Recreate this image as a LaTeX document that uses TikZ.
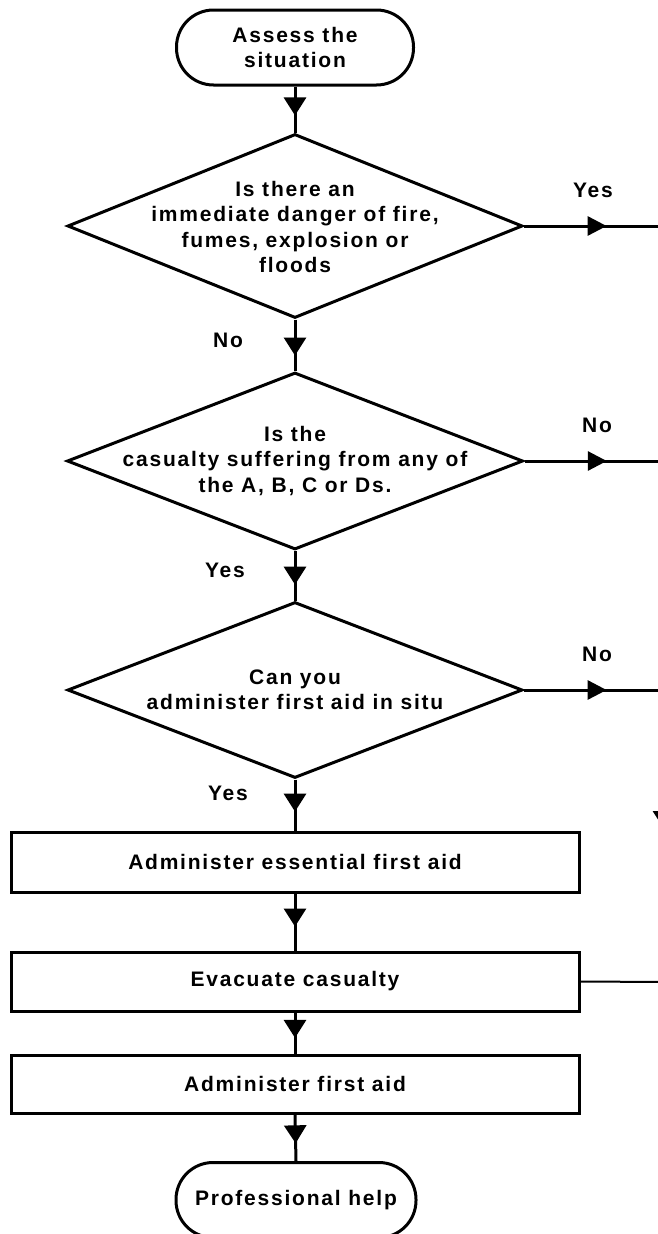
\documentclass[tikz,border=0pt]{standalone}
\usepackage{fontspec}
\setmainfont{Liberation Sans}[LetterSpace=8.5]
\usetikzlibrary{shapes.geometric,arrows.meta,decorations.markings}
\begin{document}
\begin{tikzpicture}[x=1pt,y=-1pt,
  every node/.style={font=\bfseries\fontsize{21}{25.5}\selectfont},
  term/.style={draw, line width=3pt, rectangle, rounded corners=37pt, minimum width=237pt, minimum height=75pt, inner sep=0pt, align=center},
  dec/.style={draw, line width=3pt, diamond, inner sep=0pt},
  proc/.style={draw, line width=3pt, rectangle, minimum width=568pt, inner sep=0pt},
  txt/.style={align=center, inner sep=0pt},
  lab/.style={inner sep=0pt},
  flow/.style={line width=3pt, postaction={decorate}, decoration={markings, mark=at position #1 with {\arrow{Triangle[width=22pt,length=18pt]}}}},
  flow/.default=0.63,
  flowh/.style={line width=3pt, postaction={decorate}, decoration={markings, mark=at position #1 with {\arrow{Triangle[width=19pt,length=19pt]}}}},
  flowh/.default=0.59,
]
\useasboundingbox (0,0) rectangle (658,1234);
\clip (0,0) rectangle (658,1234);

\node[term] (t1) at (295,47.5) {\fontsize{21}{22.5}\selectfont Assess the\\situation};
\node[dec, minimum width=455pt, minimum height=184pt] (d1) at (295,226) {};
\node[txt] (d1t) at (295,227) {Is there an\\immediate danger of fire,\\fumes, explosion or\\floods};
\node[dec, minimum width=456pt, minimum height=177pt] (d2) at (295,461) {};
\node[txt] (d2t) at (295,461) {Is the\\casualty suffering from any of\\the A, B, C or Ds.};
\node[dec, minimum width=455pt, minimum height=176pt] (d3) at (295,690) {};
\node[txt] (d3t) at (295,690) {Can you\\administer first aid in situ};
\node[proc, minimum height=60pt] (b1) at (295,862) {Administer essential first aid};
\node[proc, minimum height=59pt] (b2) at (295,981.5) {Evacuate casualty};
\node[proc, minimum height=58pt] (b3) at (295,1084) {Administer first aid};
\node[term, minimum width=240pt] (t2) at (296,1200) {Professional help};

\coordinate (e1) at (664,226);
\coordinate (e2) at (664,461);
\coordinate (e3) at (664,690);
\coordinate (e4) at (664,982);

\draw[flow] (t1.south) -- (d1.north);
\draw[flow=0.7] (d1.south) -- (d2.north);
\draw[flow=0.68] (d2.south) -- (d3.north);
\draw[flow] (d3.south) -- (b1.north);
\draw[flow=0.58] (b1.south) -- (b2.north);
\draw[flow=0.62] (b2.south) -- (b3.north);
\draw[flow=0.62] (b3.south) -- (t2.north);

\draw[flowh] (d1.east) -- (e1);
\draw[flowh] (d2.east) -- (e2);
\draw[flowh] (d3.east) -- (e3);
\draw[flow=603pt] (e1) -- (e4);
\draw[line width=2pt] (b2.east) -- (e4);

\node[lab] (l1) at (593,190) {Yes};
\node[lab] (l2) at (228,340) {No};
\node[lab] (l3) at (597,425) {No};
\node[lab] (l4) at (225,570) {Yes};
\node[lab] (l5) at (597,654) {No};
\node[lab] (l6) at (228,793) {Yes};
\end{tikzpicture}
\end{document}
